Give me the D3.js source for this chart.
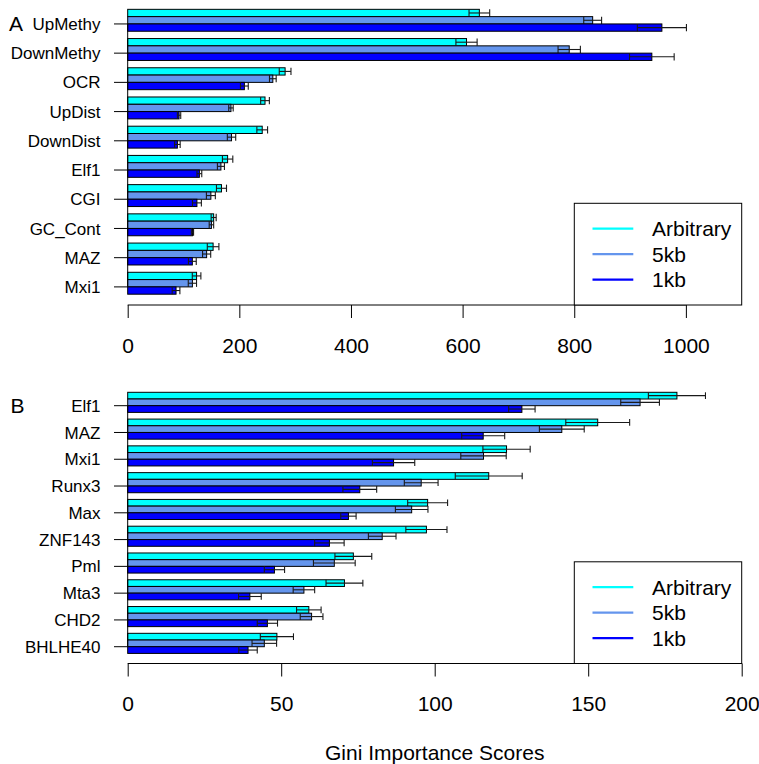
<!DOCTYPE html>
<html>
<head>
<meta charset="utf-8">
<script src="https://cdn.jsdelivr.net/npm/d3@7"></script>
<style>
  html, body { margin: 0; padding: 0; background: #fff; }
  svg { display: block; font-family: "Liberation Sans", Arial, Helvetica, sans-serif; }
</style>
</head>
<body>
<svg id="chart" width="759" height="764"></svg>
<script>
// Series shared by both panels
const seriesNames = ["Arbitrary", "5kb", "1kb"];
const seriesColors = ["#00ffff", "#6495ed", "#0000ff"];

// Panel A: all features
const catsA = ["UpMethy", "DownMethy", "OCR", "UpDist", "DownDist", "Elf1", "CGI", "GC_Cont", "MAZ", "Mxi1"];
const arbA = [630, 607, 282, 246, 241, 179, 168, 154, 153, 123.4];
const kb5A = [833, 791, 260, 185, 186, 167, 149, 150, 141.4, 115.9];
const kb1A = [957, 939, 209, 92, 89, 128.4, 124, 116, 115.8, 86.6];
const arbSeA = [18.5, 19, 10.5, 7.8, 9.6, 9.3, 9, 4.5, 10.4, 7.7];
const kb5SeA = [16, 20, 6, 4, 7.5, 6.3, 8, 4, 7.3, 7.4];
const kb1SeA = [44, 40, 7, 3, 5, 4.3, 8, 2, 7, 6.9];
const ticksA = [0, 200, 400, 600, 800, 1000];

// Panel B: transcription factors only
const catsB = ["Elf1", "MAZ", "Mxi1", "Runx3", "Max", "ZNF143", "Pml", "Mta3", "CHD2", "BHLHE40"];
const arbB = [178.9, 153.1, 123.4, 117.6, 97.7, 97.3, 73.5, 70.6, 59.0, 48.6];
const kb5B = [166.9, 141.4, 115.9, 95.6, 92.5, 82.9, 67.3, 57.4, 59.9, 44.5];
const kb1B = [128.4, 115.8, 86.6, 75.6, 71.9, 65.7, 47.8, 39.8, 45.5, 39.2];
const arbSeB = [9.3, 10.4, 7.7, 10.9, 6.5, 6.7, 6.0, 6.0, 4.0, 5.4];
const kb5SeB = [6.3, 7.3, 7.4, 5.5, 5.3, 4.5, 6.8, 3.5, 3.7, 4.0];
const kb1SeB = [4.3, 7.0, 6.9, 5.5, 2.5, 4.8, 3.3, 3.7, 3.3, 3.0];
const ticksB = [0, 50, 100, 150, 200];

const xTitle = "Gini Importance Scores";

const svg = d3.select("#chart");
const FONT = 21;
const NAME_FONT = 17;
const X0 = 127.7, X1 = 741.7;

function drawPanel(opt) {
  const g = svg.append("g");
  const x = d3.scaleLinear().domain(opt.xmax).range([X0, X1]);
  // each group: three bars + one empty slot as spacer
  const y = d3.scaleBand().domain(opt.cats).range([opt.top, opt.bottom]).padding(0);
  const sub = d3.scaleBand().domain(seriesNames.concat(["_gap"])).range([0, y.bandwidth()]).padding(0);

  const rows = [];
  opt.cats.forEach((c, i) => {
    opt.values.forEach((vals, s) => {
      rows.push({ cat: c, s: s, v: vals[i], se: opt.errors[s][i] });
    });
  });

  const bars = g.append("g").selectAll("g.bar").data(rows).join("g");
  bars.append("rect")
    .attr("x", x(0))
    .attr("y", d => y(d.cat) + sub(seriesNames[d.s]))
    .attr("width", d => x(d.v) - x(0))
    .attr("height", sub.bandwidth())
    .attr("fill", d => seriesColors[d.s])
    .attr("stroke", "#000")
    .attr("stroke-width", 1);

  // error bars: mean ± se with flat caps
  const eb = bars.append("g").attr("stroke", "#1a1a1a").attr("stroke-width", 1.1);
  eb.append("line")
    .attr("x1", d => x(d.v - d.se)).attr("x2", d => x(d.v + d.se))
    .attr("y1", d => y(d.cat) + sub(seriesNames[d.s]) + sub.bandwidth() / 2)
    .attr("y2", d => y(d.cat) + sub(seriesNames[d.s]) + sub.bandwidth() / 2);
  [-1, 1].forEach(k => {
    eb.append("line")
      .attr("x1", d => x(d.v + k * d.se)).attr("x2", d => x(d.v + k * d.se))
      .attr("y1", d => y(d.cat) + sub(seriesNames[d.s]))
      .attr("y2", d => y(d.cat) + sub(seriesNames[d.s]) + sub.bandwidth());
  });

  // category axis
  const yAxis = d3.axisLeft(y).tickSize(13.7).tickPadding(13.5).tickSizeOuter(0);
  const ya = g.append("g").attr("transform", `translate(${X0},0)`).call(yAxis);
  ya.select(".domain").remove();
  ya.selectAll(".tick line").attr("stroke", "#000");
  ya.selectAll(".tick text")
    .attr("font-size", NAME_FONT).attr("font-family", null).attr("fill", "#000").attr("dy", "0.36em");
  const tFirst = y(opt.cats[0]) + y.bandwidth() / 2;
  const tLast = y(opt.cats[opt.cats.length - 1]) + y.bandwidth() / 2;
  g.append("line").attr("x1", X0).attr("x2", X0).attr("y1", tFirst).attr("y2", tLast).attr("stroke", "#000");

  // value axis
  const xAxis = d3.axisBottom(x).tickValues(opt.ticks).tickFormat(d3.format("d"))
    .tickSize(13).tickPadding(19.6).tickSizeOuter(0);
  const xa = g.append("g").attr("transform", `translate(0,${opt.axisY})`).call(xAxis);
  xa.select(".domain").remove();
  xa.selectAll(".tick line").attr("stroke", "#000");
  xa.selectAll(".tick text").attr("font-size", FONT).attr("font-family", null).attr("fill", "#000");
  xa.append("line").attr("x1", x(opt.ticks[0])).attr("x2", x(opt.ticks[opt.ticks.length - 1]))
    .attr("y1", 0).attr("y2", 0).attr("stroke", "#000");

  // panel letter
  g.append("text").attr("x", opt.letterX).attr("y", tFirst).attr("dy", "0.36em")
    .attr("font-size", FONT).text(opt.letter);

  // legend
  const lw = 167.4, lh = 101.7;
  const lx = X1 - lw, ly = opt.axisY - lh;
  const lg = g.append("g").attr("transform", `translate(${lx},${ly})`);
  lg.append("rect").attr("width", lw).attr("height", lh).attr("fill", "#fff").attr("stroke", "#000");
  seriesNames.forEach((name, i) => {
    const yy = 25.4 + i * 25.5;
    lg.append("line").attr("x1", 18.2).attr("x2", 59).attr("y1", yy).attr("y2", yy)
      .attr("stroke", seriesColors[i]).attr("stroke-width", 2.2);
    lg.append("text").attr("x", 77.7).attr("y", yy).attr("dy", "0.35em")
      .attr("font-size", FONT).text(name);
  });
}

drawPanel({
  cats: catsA, values: [arbA, kb5A, kb1A], errors: [arbSeA, kb5SeA, kb1SeA],
  xmax: [0, 1100], ticks: ticksA, top: 9.33, bottom: 301.5, axisY: 305,
  letter: "A", letterX: 9
});

drawPanel({
  cats: catsB, values: [arbB, kb5B, kb1B], errors: [arbSeB, kb5SeB, kb1SeB],
  xmax: [0, 200], ticks: ticksB, top: 392.3, bottom: 660.1, axisY: 663.5,
  letter: "B", letterX: 10.5
});

svg.append("text").attr("x", (X0 + X1) / 2).attr("y", 760).attr("text-anchor", "middle")
  .attr("font-size", FONT).text(xTitle);
</script>
</body>
</html>
